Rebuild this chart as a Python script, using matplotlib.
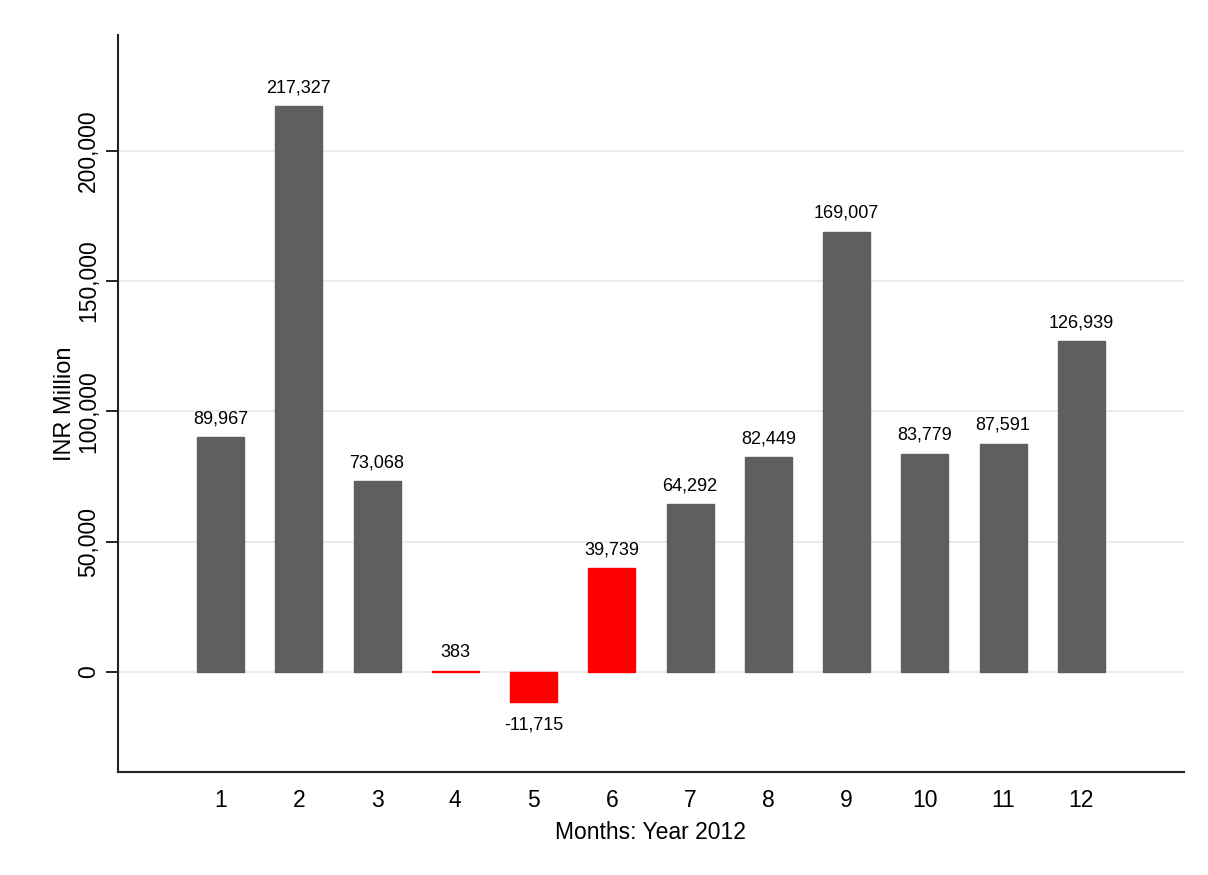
import matplotlib.pyplot as plt

plt.rcParams["font.family"] = ["Liberation Sans", "DejaVu Sans"]

months = list(range(1, 13))
values = [89967, 217327, 73068, 383, -11715, 39739, 64292, 82449, 169007, 83779, 87591, 126939]
highlight = [4, 5, 6]

fig = plt.figure(figsize=(12.08, 8.75), dpi=100)
ax = fig.add_axes([0.0977, 0.1177, 0.8823, 0.8423])

colors = ["#ff0000" if m in highlight else "#5f5f5f" for m in months]
bars = ax.bar(months, values, width=0.6, color=colors, edgecolor=colors,
              linewidth=1.0, zorder=2)

for b, v in zip(bars, values):
    x = b.get_x() + b.get_width() / 2
    if v >= 0:
        ax.annotate(f"{v:,}", (x, v), xytext=(0, 7), textcoords="offset points",
                    ha="center", va="bottom", fontsize=13)
    else:
        ax.annotate(f"{v:,}", (x, v), xytext=(0, -10), textcoords="offset points",
                    ha="center", va="top", fontsize=13)

ax.set_xlim(-0.31, 13.31)
ax.set_ylim(-38500, 244500)
ax.set_xticks(months)
ax.set_yticks([0, 50000, 100000, 150000, 200000])
ax.set_yticklabels(["0", "50,000", "100,000", "150,000", "200,000"], rotation=90, va="center")
ax.tick_params(axis="x", length=0, labelsize=16.5, pad=12)
ax.tick_params(axis="y", length=9, width=1.2, labelsize=16.5, pad=4)
ax.yaxis.grid(True, color="#ebebeb", linewidth=1.5, zorder=0)
ax.set_axisbelow(True)

for s in ["top", "right"]:
    ax.spines[s].set_visible(False)
for s in ["left", "bottom"]:
    ax.spines[s].set_linewidth(1.5)
    ax.spines[s].set_color("#222222")

ax.set_xlabel("Months: Year 2012", fontsize=16.5, labelpad=7)
ax.set_ylabel("INR Million", fontsize=17, labelpad=1)

plt.savefig("out.png", dpi=100)
plt.close()
